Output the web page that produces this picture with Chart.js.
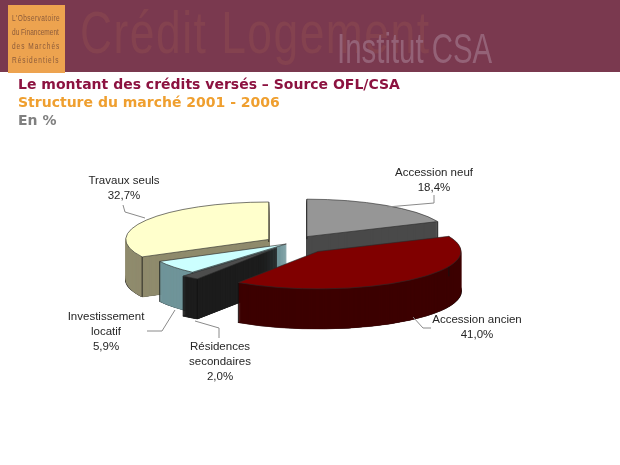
<!DOCTYPE html>
<html lang="fr"><head><meta charset="utf-8">
<script src="https://cdn.jsdelivr.net/npm/chart.js@4"></script>
<style>
html,body{margin:0;padding:0;background:#fff;width:620px;height:465px;overflow:hidden}
#wrap{position:relative;width:620px;height:465px;font-family:"Liberation Sans",Arial,sans-serif}
#band{position:absolute;left:0;top:0;width:620px;height:72px;background:#7a394f;overflow:hidden;filter:blur(.6px)}
#logo{position:absolute;left:8px;top:5px;width:57px;height:68px;background:#eda34f;filter:blur(.4px)}
#logo div{position:absolute;left:4px;color:#8b5b3b;font-size:8.6px;line-height:14px;white-space:nowrap;transform:scaleX(.76);transform-origin:0 0}
.ghost{position:absolute;white-space:nowrap;transform-origin:0 0}
#g1{left:80px;top:-2px;font-size:60px;color:#84424f;transform:scaleX(.74);letter-spacing:2px}
#g2{left:337px;top:25px;font-size:42px;color:#946277;transform:scaleX(.70)}
.t{position:absolute;left:18px;font-family:"DejaVu Sans";font-weight:bold;font-size:14px;white-space:nowrap;filter:blur(.3px)}
#chart{position:absolute;left:0;top:0;filter:blur(.35px)}
</style></head>
<body><div id="wrap">
<canvas id="chart" width="620" height="465"></canvas>
<div id="band">
<div class="ghost" id="g1">Crédit Logement</div>
<div class="ghost" id="g2">Institut CSA</div>
</div>
<div id="logo">
<div style="top:6px;letter-spacing:.55px">L'Observatoire</div>
<div style="top:20px">du Financement</div>
<div style="top:34px;letter-spacing:1.3px">des Marchés</div>
<div style="top:48px;letter-spacing:1.3px">Résidentiels</div>
</div>
<div class="t" style="top:76px;color:#8c1240">Le montant des crédits versés – Source OFL/CSA</div>
<div class="t" style="top:94px;color:#ef9f2f">Structure du marché 2001 - 2006</div>
<div class="t" style="top:112px;color:#808080">En %</div>
</div>
<script>
const categories = ["Accession neuf", "Accession ancien", "Résidences secondaires", "Investissement locatif", "Travaux seuls"];
const labelLines = [["Accession neuf"], ["Accession ancien"], ["Résidences", "secondaires"], ["Investissement", "locatif"], ["Travaux seuls"]];
const shares = [18.4, 41.0, 2.0, 5.9, 32.7];
const topColors = ["#969696", "#800000", "#4d4d4d", "#ccffff", "#ffffcc"];
const sideColors = ["#4a4a4a", "#3c0000", "#1c1c1c", "#6f9499", "#8f8b6d"];
const explode = [29, 42, 23, 6, 26];
const drawOrder = [0, 4, 3, 2, 1];
const labelCenters = [[434,173],[477,320],[220,347],[106,317],[124,181]];
const leaders = [
  [[387,207],[434,203],[434,195]],
  [[413,317],[423,328],[431,328]],
  [[195,321],[219,328],[219,338]],
  [[175,310],[162,331],[147,331]],
  [[145,218],[125,212],[123,205]]
];
const tilt = 0.262, depth = 40;

function place(ctx, arc, k) {
  const mid = (arc.startAngle + arc.endAngle) / 2, o = explode[arc.$idx];
  ctx.translate(arc.x + Math.cos(mid) * o, arc.y + tilt * Math.sin(mid) * o + k);
  ctx.scale(1, tilt);
  ctx.translate(-arc.x, -arc.y);
}
function cornerEdge(ctx, arc, angle) {
  const mid = (arc.startAngle + arc.endAngle) / 2, o = explode[arc.$idx], R = arc.outerRadius;
  const x = arc.x + Math.cos(mid) * o + Math.cos(angle) * R;
  const y = arc.y + tilt * (Math.sin(mid) * o + Math.sin(angle) * R);
  ctx.beginPath(); ctx.moveTo(x, y); ctx.lineTo(x, y + depth); ctx.stroke();
}
const solidPie = {
  id: "solidPie",
  beforeDatasetsDraw(chart) {
    const ctx = chart.ctx, arcs = chart.getDatasetMeta(0).data;
    arcs.forEach((a, i) => a.$idx = i);
    drawOrder.forEach(i => {
      const arc = arcs[i], shown = arc.options;
      arc.options = Object.assign({}, shown, {backgroundColor: "#111", borderColor: "#111", borderWidth: 1.6});
      ctx.save(); place(ctx, arc, depth); arc.draw(ctx); ctx.restore();
      arc.options = Object.assign({}, shown, {backgroundColor: sideColors[i], borderColor: sideColors[i], borderWidth: 1});
      for (let k = depth; k > 0; k--) {
        ctx.save(); place(ctx, arc, k); arc.draw(ctx); ctx.restore();
      }
      ctx.save(); ctx.strokeStyle = "#111"; ctx.lineWidth = 0.8;
      cornerEdge(ctx, arc, arc.startAngle); cornerEdge(ctx, arc, arc.endAngle);
      ctx.restore();
      arc.options = shown;
      ctx.save(); place(ctx, arc, 0); arc.draw(ctx); ctx.restore();
    });
    ctx.save();
    ctx.strokeStyle = "#8a8a8a"; ctx.lineWidth = 1;
    leaders.forEach(pts => {
      ctx.beginPath();
      pts.forEach((p, j) => j ? ctx.lineTo(p[0], p[1]) : ctx.moveTo(p[0], p[1]));
      ctx.stroke();
    });
    ctx.fillStyle = "#262626"; ctx.font = "11.5px 'Liberation Sans'";
    ctx.textAlign = "center"; ctx.textBaseline = "middle";
    shares.forEach((v, i) => {
      const lines = labelLines[i].concat(v.toFixed(1).replace(".", ",") + "%");
      lines.forEach((t, j) => ctx.fillText(t, labelCenters[i][0], labelCenters[i][1] + j * 15));
    });
    ctx.restore();
    return false;
  }
};
new Chart(document.getElementById("chart"), {
  type: "pie",
  data: { labels: categories, datasets: [{ data: shares, backgroundColor: topColors, borderColor: "#2a2a2a", borderWidth: 1 }] },
  options: {
    responsive: false, animation: false, radius: 143,
    layout: { padding: { right: 38, top: 21 } },
    plugins: { legend: { display: false }, tooltip: { enabled: false } }
  },
  plugins: [solidPie]
});
</script>
</body></html>
